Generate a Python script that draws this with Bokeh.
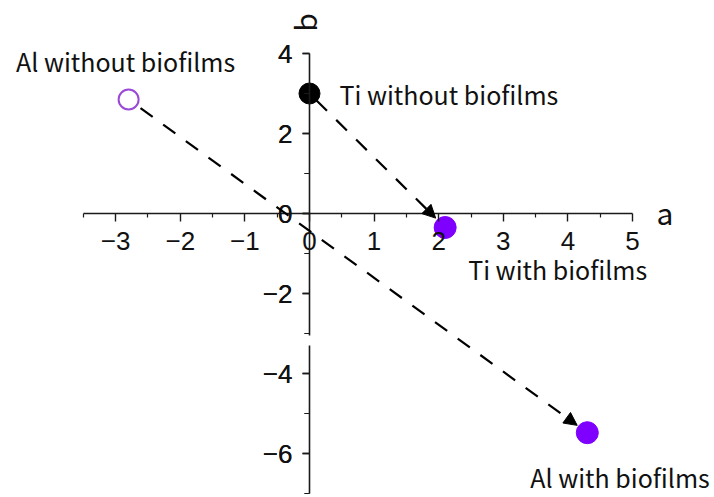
import numpy as np
from bokeh.plotting import figure
from bokeh.models import LinearAxis, FixedTicker, Range1d, Arrow, NormalHead
from bokeh.core.properties import value
from bokeh.embed import file_html
from bokeh.resources import INLINE

# ---------------- data ----------------
labels = ["Al without biofilms", "Ti without biofilms", "Ti with biofilms", "Al with biofilms"]
a_vals = [-2.8, 0.0, 2.1, 4.3]
b_vals = [2.85, 3.0, -0.35, -5.48]
x_ticks = [-3, -2, -1, 0, 1, 2, 3, 4, 5]
x_minor = [-3.5, -2.5, -1.5, -0.5, 0.5, 1.5, 2.5, 3.5, 4.5]
y_ticks = [-6, -4, -2, 0, 2, 4]
y_minor = [-7, -5, -3, -1, 1, 3]
x_bounds = (-3.5, 5)
y_bounds_upper = (-3.05, 4)
y_bounds_lower = (-7, -3.3)
axis_names = ["a", "b"]
arrow_pairs = [(1, 2), (0, 3)]  # from point index -> to point index

# ---------------- styles ----------------
FONT = "Noto Sans CJK JP"
TICK_FONT = "Liberation Sans"
PURPLE = "#8000ff"
OPEN_PURPLE = "#9a4ad6"
AX_COLOR = "#1a1a1a"

p = figure(width=714, height=497,
           x_range=Range1d(-4.783, 6.269), y_range=Range1d(-7.10, 5.325),
           output_backend="svg", toolbar_location=None,
           x_axis_location=None, y_axis_location=None,
           min_border=0, outline_line_color=None,
           background_fill_color="white", border_fill_color="white")
p.grid.grid_line_color = None


def minus(t):
    return ("\u2212" + str(abs(t))) if t < 0 else str(t)


def style_axis(ax, tick_len, minor_len, standoff):
    ax.axis_line_color = AX_COLOR
    ax.axis_line_width = 1.6
    ax.major_tick_line_color = AX_COLOR
    ax.major_tick_line_width = 1.4
    ax.minor_tick_line_color = AX_COLOR
    ax.minor_tick_line_width = 1.2
    ax.major_tick_in = 0
    ax.major_tick_out = tick_len
    ax.minor_tick_in = 0
    ax.minor_tick_out = minor_len
    ax.major_label_text_font = TICK_FONT
    ax.major_label_text_font_size = "26px"
    ax.major_label_text_color = "#111111"
    ax.major_label_standoff = standoff


xa = LinearAxis(fixed_location=0, bounds=x_bounds,
                ticker=FixedTicker(ticks=x_ticks, minor_ticks=x_minor),
                major_label_overrides={t: minus(t) for t in x_ticks})
style_axis(xa, 8, 4, 10)
p.add_layout(xa, "below")

for bnds in (y_bounds_upper, y_bounds_lower):
    ya = LinearAxis(fixed_location=0, bounds=bnds,
                    ticker=FixedTicker(ticks=y_ticks, minor_ticks=y_minor),
                    major_label_overrides={t: minus(t) for t in y_ticks})
    style_axis(ya, 7, 5, 10)
    p.add_layout(ya, "left")

# ---------------- arrows ----------------
arrow_fracs = {(1, 2): (0.05, 0.93), (0, 3): (0.026, 0.978)}
for i0, i1 in arrow_pairs:
    f0, f1 = arrow_fracs[(i0, i1)]
    xa0, ya0 = a_vals[i0], b_vals[i0]
    dx, dy = a_vals[i1] - xa0, b_vals[i1] - ya0
    p.add_layout(Arrow(end=NormalHead(size=13, fill_color="black", line_color="black", line_width=1),
                       x_start=xa0 + f0 * dx, y_start=ya0 + f0 * dy,
                       x_end=xa0 + f1 * dx, y_end=ya0 + f1 * dy,
                       line_color="black", line_width=2.2, line_dash="15 13"))

# ---------------- points ----------------
p.scatter([a_vals[0]], [b_vals[0]], size=20, marker="circle",
          fill_color="white", line_color=OPEN_PURPLE, line_width=2)
p.scatter([a_vals[1]], [b_vals[1]], size=21, marker="circle",
          fill_color="black", line_color="black")
p.scatter(a_vals[2:], b_vals[2:], size=22, marker="circle",
          fill_color=PURPLE, line_color=PURPLE)

# ---------------- point labels ----------------
label_style = [
    dict(text_align="center", x_offset=-3, y_offset=-39),
    dict(text_align="left", x_offset=30, y_offset=0),
    dict(text_align="left", x_offset=23, y_offset=41),
    dict(text_align="left", x_offset=-57, y_offset=44),
]
for i, st in enumerate(label_style):
    p.text([a_vals[i]], [b_vals[i]], text=[labels[i]], text_baseline="middle",
           text_font=value(FONT), text_font_size="25px", text_color="#111111", **st)

# ---------------- axis names ----------------
p.text([x_bounds[1]], [0], text=[axis_names[0]], text_align="left", text_baseline="middle",
       x_offset=24, y_offset=-2, text_font=value(FONT), text_font_size="30px", text_color="#111111")
p.text([0], [y_ticks[-1]], text=[axis_names[1]], text_align="center", text_baseline="middle",
       angle=np.pi / 2, x_offset=-5, y_offset=-31, text_font=value(FONT),
       text_font_size="30px", text_color="#111111")

open("out.html", "w").write(file_html(p, INLINE))
